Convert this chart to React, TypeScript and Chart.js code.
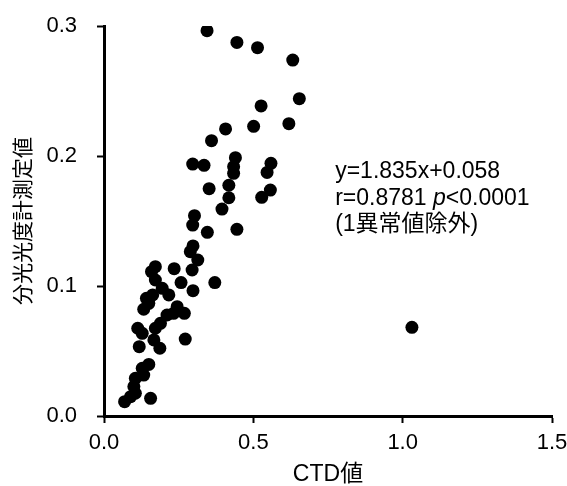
import React, { useEffect, useRef } from "react";
import { Chart, registerables } from "chart.js";

Chart.register(...registerables);

const FONT = "'Liberation Sans', 'Noto Sans CJK JP', Arial, sans-serif";

const xTitle = "CTD値";
const yTitle = "分光光度計測定値";

const ctdValues = [
  0.345, 0.445, 0.514, 0.632, 0.654, 0.526, 0.619, 0.501, 0.407, 0.360,
  0.297, 0.335, 0.440, 0.434, 0.434, 0.559, 0.546, 0.352, 0.418, 0.418,
  0.557, 0.528, 0.395, 0.303, 0.297, 0.346, 0.445, 0.298, 0.289, 0.314,
  0.295, 0.235, 0.172, 0.159, 0.172, 0.258, 0.371, 0.298, 0.195, 0.217,
  0.163, 0.142, 0.150, 0.133, 0.245, 0.233, 0.269, 0.211, 0.189, 0.172,
  0.113, 0.128, 0.167, 0.187, 0.118, 0.272, 0.150, 0.128, 0.133, 0.105,
  0.100, 0.105, 0.089, 0.069, 0.156, 1.031,
];

const spectroValues = [
  0.2964, 0.2874, 0.2833, 0.2738, 0.2441, 0.2385, 0.2249, 0.2228, 0.2208, 0.2118,
  0.1938, 0.1928, 0.1987, 0.1918, 0.1867, 0.1944, 0.1874, 0.1749, 0.1775, 0.1679,
  0.1738, 0.1682, 0.1592, 0.1541, 0.1469, 0.1413, 0.1436, 0.1308, 0.1264, 0.1200,
  0.1123, 0.1133, 0.1149, 0.1110, 0.1046, 0.1026, 0.1026, 0.0964, 0.0982, 0.0931,
  0.0931, 0.0905, 0.0867, 0.0821, 0.0841, 0.0790, 0.0790, 0.0777, 0.0713, 0.0675,
  0.0675, 0.0636, 0.0585, 0.0521, 0.0533, 0.0592, 0.0397, 0.0367, 0.0315, 0.0290,
  0.0226, 0.0175, 0.0149, 0.0110, 0.0136, 0.0682,
];

const annotationLine1 = "y=1.835x+0.058";
const annotationLine2a = "r=0.8781 ";
const annotationLine2b = "p";
const annotationLine2c = "<0.0001";
const annotationLine3 = "(1異常値除外)";
const annotationAnchor = { x: 0.774, y: 0.1877 };

const annotationPlugin = {
  id: "annotationText",
  afterDatasetsDraw(chart: any) {
    const ctx = chart.ctx;
    const xs = chart.scales.x;
    const ys = chart.scales.y;
    const px = xs.getPixelForValue(annotationAnchor.x);
    const py = ys.getPixelForValue(annotationAnchor.y);
    const lh = 26.5;
    const size = 23;
    ctx.save();
    ctx.fillStyle = "#000";
    ctx.textBaseline = "middle";
    ctx.textAlign = "left";
    ctx.font = `${size}px ${FONT}`;
    ctx.fillText(annotationLine1, px, py);
    let cx = px;
    ctx.fillText(annotationLine2a, cx, py + lh);
    cx += ctx.measureText(annotationLine2a).width;
    ctx.font = `italic ${size}px ${FONT}`;
    ctx.fillText(annotationLine2b, cx, py + lh);
    cx += ctx.measureText(annotationLine2b).width;
    ctx.font = `${size}px ${FONT}`;
    ctx.fillText(annotationLine2c, cx, py + lh);
    ctx.fillText(annotationLine3, px, py + 2 * lh);
    ctx.restore();
  },
};

export default function App() {
  const ref = useRef<HTMLCanvasElement | null>(null);

  useEffect(() => {
    document.body.style.margin = "0";
    const canvas = ref.current;
    if (!canvas) return;
    const data = ctdValues.map((x, i) => ({ x, y: spectroValues[i] }));
    const chart = new Chart(canvas, {
      type: "scatter",
      data: {
        datasets: [
          {
            data,
            backgroundColor: "#000",
            borderColor: "#000",
            pointRadius: 6.5,
            pointHoverRadius: 6.5,
            borderWidth: 0,
          },
        ],
      },
      options: {
        animation: false,
        responsive: false,
        devicePixelRatio: 1,
        layout: { padding: { left: 0, right: 15, top: 26, bottom: 0 } },
        plugins: {
          legend: { display: false },
          tooltip: { enabled: false },
        },
        scales: {
          x: {
            type: "linear",
            min: 0,
            max: 1.5,
            afterFit: (s: any) => {
              s.height = 70;
              s.paddingLeft = 0;
              s.paddingRight = 0;
            },
            ticks: {
              stepSize: 0.5,
              color: "#000",
              padding: 7,
              font: { family: FONT, size: 22 },
              callback: (v: any) => Number(v).toFixed(1),
            },
            grid: {
              display: true,
              drawOnChartArea: false,
              drawTicks: true,
              tickLength: 7,
              tickWidth: 2,
              tickColor: "#000",
            },
            border: { display: true, color: "#000", width: 3 },
            title: {
              display: true,
              text: xTitle,
              color: "#000",
              font: { family: FONT, size: 23, lineHeight: 1 },
              padding: { top: 0, bottom: 0 },
            },
          },
          y: {
            type: "linear",
            min: 0,
            max: 0.3,
            afterFit: (s: any) => {
              s.width = 104;
              s.paddingTop = 0;
              s.paddingBottom = 0;
            },
            ticks: {
              stepSize: 0.1,
              color: "#000",
              padding: 20,
              font: { family: FONT, size: 22 },
              callback: (v: any) => Number(v).toFixed(1),
            },
            grid: {
              display: true,
              drawOnChartArea: false,
              drawTicks: true,
              tickLength: 7,
              tickWidth: 2,
              tickColor: "#000",
            },
            border: { display: true, color: "#000", width: 3 },
            title: {
              display: true,
              text: yTitle,
              color: "#000",
              font: { family: FONT, size: 21, lineHeight: 1.2 },
              padding: { top: 12, bottom: 0 },
            },
          },
        },
      },
      plugins: [annotationPlugin],
    });
    return () => chart.destroy();
  }, []);

  return (
    <div style={{ position: "fixed", left: 0, top: 0, width: 567, height: 486, background: "#fff" }}>
      <canvas ref={ref} width={567} height={486} />
    </div>
  );
}
